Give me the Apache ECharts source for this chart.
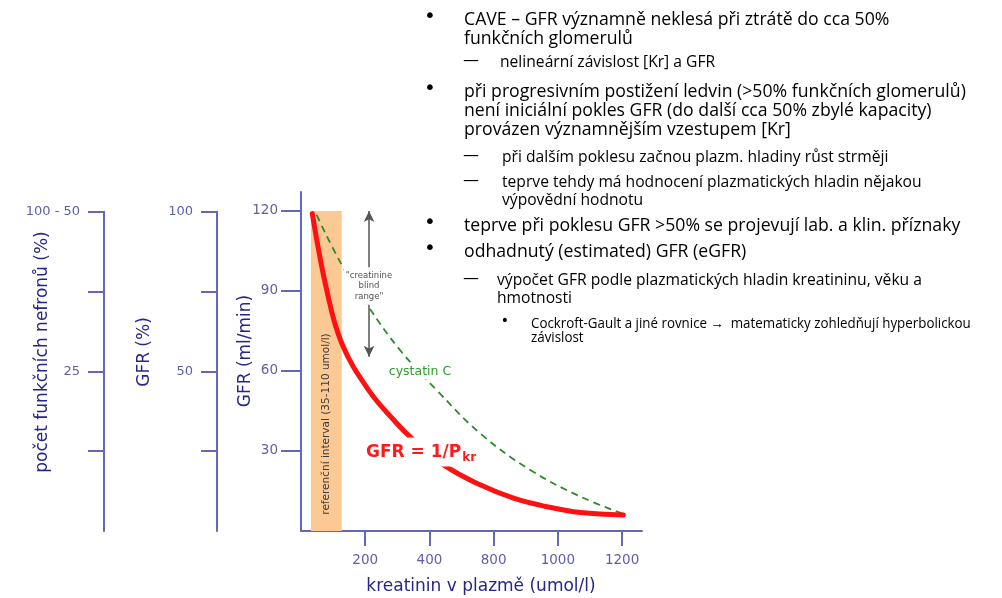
<!DOCTYPE html>
<html>
<head>
<meta charset="utf-8">
<script src="https://cdn.jsdelivr.net/npm/echarts@6/dist/echarts.min.js"></script>
<style>
  html, body { margin: 0; padding: 0; background: #fff; }
  #chart { width: 1002px; height: 598px; }
</style>
</head>
<body>
<div id="chart"></div>
<script>
// osa kreatininu: tiky na pozicich 1..5 nesou tyto popisky
var xTickLabels = ['200', '400', '800', '1000', '1200'];
var gfrTicks = [30, 60, 90, 120];
var gfrTickLabels = ['30', '60', '90', '120'];
var pctTicks = [25, 50, 75, 100];
var gfrPctLabels = { 100: '100', 50: '50' };
var nefronLabels = { 100: '100 - 50', 50: '25' };

// krivky [pozice na ose x, GFR ml/min]
var gfrCurve = [[0.176, 119], [0.40, 90.4], [0.634, 70.4], [1.05, 52.9], [1.49, 40.4], [1.72, 34.8],
  [2.22, 24.8], [2.79, 17.3], [3.31, 12.3], [3.83, 9.1], [4.35, 6.9], [5.02, 6.0]];
var cystatinCurve = [[0.244, 118.5], [0.634, 99.8], [1.05, 84.1], [1.54, 67.9], [2.11, 52.9],
  [2.79, 36.6], [3.57, 22.9], [4.35, 12.9], [5.07, 6.0]];
var refInterval = [0.156, 0.634, 0, 120];   // 35-110 umol/l
var blindRange = [1.06, 120, 65.3];

var bullets = [
  { t: 'CAVE – GFR významně neklesá při ztrátě do cca 50%', x: 464, y: 20, lvl: 0, mark: true },
  { t: 'funkčních glomerulů', x: 464, y: 39, lvl: 0 },
  { t: 'nelineární závislost [Kr] a GFR', x: 500, y: 62, lvl: 1, mark: true },
  { t: 'při progresivním postižení ledvin (>50% funkčních glomerulů)', x: 464, y: 92, lvl: 0, mark: true },
  { t: 'není iniciální pokles GFR (do další cca 50% zbylé kapacity)', x: 464, y: 111, lvl: 0 },
  { t: 'provázen významnějším vzestupem [Kr]', x: 464, y: 130, lvl: 0 },
  { t: 'při dalším poklesu začnou plazm. hladiny růst strměji', x: 502, y: 157, lvl: 1, mark: true },
  { t: 'teprve tehdy má hodnocení plazmatických hladin nějakou', x: 502, y: 182, lvl: 1, mark: true },
  { t: 'výpovědní hodnotu', x: 502, y: 200, lvl: 1 },
  { t: 'teprve při poklesu GFR >50% se projevují lab. a klin. příznaky', x: 464, y: 226, lvl: 0, mark: true },
  { t: 'odhadnutý (estimated) GFR (eGFR)', x: 464, y: 252, lvl: 0, mark: true },
  { t: 'výpočet GFR podle plazmatických hladin kreatininu, věku a', x: 497, y: 280, lvl: 1, mark: true },
  { t: 'hmotnosti', x: 497, y: 298, lvl: 1 },
  { t: 'Cockroft-Gault a jiné rovnice \u2192  matematicky zohledňují hyperbolickou', x: 531, y: 324, lvl: 2, mark: true },
  { t: 'závislost', x: 531, y: 338, lvl: 2 }
];

var axisColor = '#6666bb';
var labelColor = '#5e5eaa';
var titleColor = '#25258a';
var chartFont = 'DejaVu Sans';
var slideFont = 'Open Sans';

var myChart = echarts.init(document.getElementById('chart'), null, { renderer: 'canvas' });

function sideAxis(grid, labels, tickLen) {
  return {
    type: 'value', gridIndex: grid, min: 0, max: 100, interval: 25,
    axisLine: { show: true, lineStyle: { color: axisColor, width: 2 } },
    axisTick: { show: true, length: tickLen, customValues: pctTicks, lineStyle: { color: axisColor, width: 2 } },
    axisLabel: {
      customValues: [50, 100], margin: 24, color: labelColor, fontFamily: chartFont, fontSize: 13,
      formatter: function (v) { return labels[v] || ''; }
    },
    splitLine: { show: false }
  };
}

var texts = [];
bullets.forEach(function (b) {
  var size = [19, 17, 14.5][b.lvl];
  texts.push({
    type: 'text', z: 100, x: b.x, y: b.y, scaleX: b.lvl === 0 ? 0.93 : 0.92,
    style: { text: b.t, fontFamily: slideFont, fontSize: size, fill: '#000', verticalAlign: 'middle' }
  });
  if (b.mark) {
    var m = b.lvl === 1 ? '—' : '•';
    var mx = b.lvl === 0 ? 430 : (b.lvl === 1 ? 471 : 505);
    texts.push({
      type: 'text', z: 100, x: mx, y: b.y - (b.lvl === 1 ? 1 : 3),
      style: { text: m, fontFamily: 'DejaVu Sans', fontSize: b.lvl === 2 ? 14 : (b.lvl === 1 ? 16 : 20), fill: '#000', align: 'center', verticalAlign: 'middle' }
    });
  }
});

// nazvy os a popisky v grafu
texts.push(
  { type: 'text', z: 100, x: 43, y: 352, rotation: Math.PI / 2,
    style: { text: 'počet funkčních nefronů (%)', fontFamily: chartFont, fontSize: 17, fill: titleColor, align: 'center', verticalAlign: 'middle' } },
  { type: 'text', z: 100, x: 145, y: 352, rotation: Math.PI / 2,
    style: { text: 'GFR (%)', fontFamily: chartFont, fontSize: 17, fill: titleColor, align: 'center', verticalAlign: 'middle' } },
  { type: 'text', z: 100, x: 246, y: 351, rotation: Math.PI / 2,
    style: { text: 'GFR (ml/min)', fontFamily: chartFont, fontSize: 17, fill: titleColor, align: 'center', verticalAlign: 'middle' } },
  { type: 'text', z: 100, x: 481, y: 587,
    style: { text: 'kreatinin v plazmě (umol/l)', fontFamily: chartFont, fontSize: 17, fill: titleColor, align: 'center', verticalAlign: 'middle' } },
  { type: 'text', z: 100, x: 326, y: 424, rotation: Math.PI / 2,
    style: { text: 'referenční interval (35-110 umol/l)', fontFamily: chartFont, fontSize: 10.5, fill: '#3a3a3a', align: 'center', verticalAlign: 'middle' } },
  { type: 'text', z: 100, x: 369, y: 286,
    style: { text: '"creatinine\nblind\nrange"', fontFamily: chartFont, fontSize: 8.5, lineHeight: 10.5, fill: '#555', align: 'center', verticalAlign: 'middle', backgroundColor: '#fff', padding: [3, 2] } },
  { type: 'text', z: 100, x: 420, y: 372,
    style: { text: 'cystatin C', fontFamily: chartFont, fontSize: 12.5, fill: '#2e9a2e', align: 'center', verticalAlign: 'middle', backgroundColor: '#fff', padding: [1, 1] } },
  { type: 'text', z: 100, x: 364, y: 452,
    style: {
      text: '{a|GFR = 1/P}{b|kr}', align: 'left', verticalAlign: 'middle', backgroundColor: '#fff', padding: [5, 4, 3, 2],
      rich: {
        a: { fontFamily: chartFont, fontSize: 17, fontWeight: 'bold', fill: '#ff1a1a' },
        b: { fontFamily: chartFont, fontSize: 12, fontWeight: 'bold', fill: '#ff1a1a', padding: [9, 0, 0, 1] }
      }
    } }
);

myChart.setOption({
  animation: false,
  grid: [
    { left: 301, top: 192, width: 341, height: 339 },
    { left: 217, top: 211.7, width: 1, height: 319.3 },
    { left: 104, top: 211.7, width: 1, height: 319.3 }
  ],
  xAxis: [
    {
      type: 'value', gridIndex: 0, min: 0, max: 5.31, interval: 1,
      axisLine: { show: true, lineStyle: { color: axisColor, width: 2 } },
      axisTick: { show: true, length: 15, customValues: [1, 2, 3, 4, 5], lineStyle: { color: axisColor, width: 2 } },
      axisLabel: {
        customValues: [1, 2, 3, 4, 5], margin: 22, color: labelColor, fontFamily: chartFont, fontSize: 13.5,
        formatter: function (v) { return xTickLabels[Math.round(v) - 1] || ''; }
      },
      splitLine: { show: false }
    },
    { type: 'value', gridIndex: 1, show: false },
    { type: 'value', gridIndex: 2, show: false }
  ],
  yAxis: [
    {
      type: 'value', gridIndex: 0, min: 0, max: 127.1, interval: 30,
      axisLine: { show: true, lineStyle: { color: axisColor, width: 2 } },
      axisTick: { show: true, length: 20, customValues: gfrTicks, lineStyle: { color: axisColor, width: 2 } },
      axisLabel: {
        customValues: gfrTicks, margin: 23, color: labelColor, fontFamily: chartFont, fontSize: 13.5,
        formatter: function (v) { return gfrTickLabels[gfrTicks.indexOf(v)] || ''; }
      },
      splitLine: { show: false }
    },
    sideAxis(1, gfrPctLabels, 16),
    sideAxis(2, nefronLabels, 16)
  ],
  series: [
    {
      name: 'cystatin C', type: 'line', xAxisIndex: 0, yAxisIndex: 0,
      data: cystatinCurve, smooth: 0.4, showSymbol: false, z: 3,
      lineStyle: { color: '#2a8c2a', width: 1.8, type: [7, 5] },
      markLine: {
        silent: true, symbol: ['arrow', 'arrow'], symbolSize: [8, 11],
        label: { show: false },
        lineStyle: { color: '#555', width: 1.5, type: 'solid' },
        data: [[{ coord: [blindRange[0], blindRange[1]] }, { coord: [blindRange[0], blindRange[2]] }]]
      }
    },
    {
      name: 'GFR', type: 'line', xAxisIndex: 0, yAxisIndex: 0,
      data: gfrCurve, smooth: 0.4, showSymbol: false, z: 4,
      lineStyle: { color: '#ff1111', width: 5, cap: 'round' },
      markArea: {
        silent: true,
        itemStyle: { color: '#fcc994', opacity: 1 },
        data: [[{ coord: [refInterval[0], refInterval[2]] }, { coord: [refInterval[1], refInterval[3]] }]]
      }
    }
  ],
  graphic: texts
});
</script>
</body>
</html>
